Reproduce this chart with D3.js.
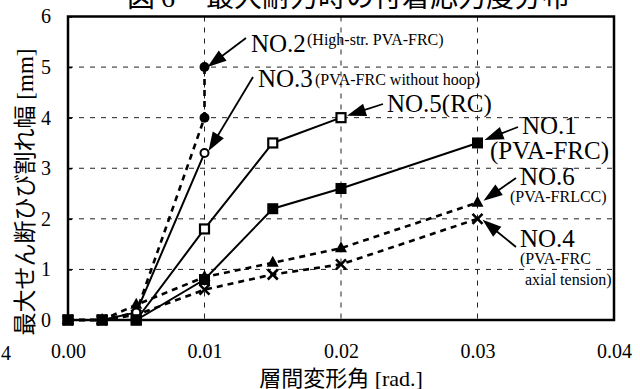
<!DOCTYPE html>
<html><head><meta charset="utf-8">
<script src="https://cdn.jsdelivr.net/npm/d3@7"></script>
<style>
html,body{margin:0;padding:0;background:#fff;}
svg{display:block;}
svg text{font-family:"Liberation Serif","DejaVu Serif","Noto Sans CJK JP";fill:#000;}
</style></head>
<body>
<svg id="chart" width="640" height="389"></svg>
<script>
// ---- data ----
const drift = [0, 0.0025, 0.005, 0.01, 0.015, 0.02, 0.03];
const no1 = [0, 0, 0, 0.8, 2.2, 2.6, 3.5];          // NO.1 PVA-FRC
const no5 = [0, 0, 0, 1.8, 3.5, 4.0];                // NO.5 RC
const no3 = [0, 0, 0.15, 3.3];                       // NO.3 without hoop
const no2x = [0, 0.0025, 0.005, 0.01, 0.01];
const no2 = [0, 0, 0.15, 4.0, 5.0];                  // NO.2 high-str.
const no6 = [0, 0, 0.3, 0.85, 1.13, 1.42, 2.32];     // NO.6 PVA-FRLCC
const no4 = [0, 0, 0.1, 0.6, 0.9, 1.1, 2.0];         // NO.4 axial tension
const xTicks = [0, 0.01, 0.02, 0.03, 0.04];
const yTicks = [0, 1, 2, 3, 4, 5, 6];
const xTitle = "層間変形角 [rad.]";
const yTitle = "最大せん断ひび割れ幅 [mm]";

// ---- layout ----
const FONT = '"Liberation Serif","DejaVu Serif","Noto Sans CJK JP"';
const svg = d3.select("#chart");
const L = 68, R = 614, T = 16.5, B = 320;
const x = d3.scaleLinear().domain([0, 0.04]).range([L, R]);
const y = d3.scaleLinear().domain([0, 6]).range([B, T]);

// title (cropped at top)
const title = svg.append("text").attr("y", 7).style("font-size", "28px").style("font-family", FONT);
title.append("tspan").attr("x", 127).style("font-family", "Noto Sans CJK JP").text("図");
title.append("tspan").attr("x", 161).text("6");
title.append("tspan").attr("x", 206).style("font-family", "Noto Sans CJK JP").text("最大耐力時の付着応力度分布");

// grid
const g = svg.append("g");
g.selectAll(".hg").data(yTicks.filter(d => d > 0 && d < 6)).enter().append("line")
  .attr("x1", L).attr("x2", R).attr("y1", d => y(d)).attr("y2", d => y(d))
  .attr("stroke", "#222").attr("stroke-width", 1).attr("stroke-dasharray", "5,6");
g.selectAll(".vg").data(xTicks.filter(d => d > 0 && d < 0.04)).enter().append("line")
  .attr("y1", T).attr("y2", B).attr("x1", d => x(d)).attr("x2", d => x(d))
  .attr("stroke", "#222").attr("stroke-width", 1).attr("stroke-dasharray", "5,6");

// axes labels via d3 axes
const yAxis = svg.append("g").attr("transform", `translate(${L},0)`)
  .call(d3.axisLeft(y).tickValues(yTicks).tickSize(-4).tickPadding(17).tickFormat(d3.format("d")));
yAxis.attr("font-family", null).attr("font-size", null);
yAxis.select(".domain").remove();
yAxis.selectAll("line").attr("stroke", "#000").attr("stroke-width", 1.5);
yAxis.selectAll("text").style("font-size", "20px").style("font-family", FONT);

const xAxis = svg.append("g").attr("transform", `translate(0,${B})`)
  .call(d3.axisBottom(x).tickValues(xTicks).tickSize(0).tickPadding(24).tickFormat(d3.format(".2f")));
xAxis.attr("font-family", null).attr("font-size", null);
xAxis.select(".domain").remove();
xAxis.selectAll("text").style("font-size", "20px").style("font-family", FONT);

// stray cropped label at far left
svg.append("text").attr("x", 1).attr("y", 360).style("font-size", "20px").style("font-family", FONT).text("4");

// axis titles
svg.append("text").attr("x", 341).attr("y", 386).attr("text-anchor", "middle")
  .style("font-size", "22px").style("font-family", FONT).text(xTitle);
svg.append("text").attr("transform", "translate(33,192) rotate(-90)").attr("text-anchor", "middle")
  .style("font-size", "23px").style("font-family", FONT).text(yTitle);

// frame
svg.append("rect").attr("x", L).attr("y", T).attr("width", R - L).attr("height", B - T)
  .attr("fill", "none").attr("stroke", "#000").attr("stroke-width", 2.5);

// series
const series = [
  {xs: drift, ys: no6, dash: "6,5", marker: "tri"},
  {xs: drift, ys: no4, dash: "6,5", marker: "x"},
  {xs: no2x, ys: no2, dash: "6,5", marker: "dot"},
  {xs: drift, ys: no3, dash: null, marker: "circle"},
  {xs: drift, ys: no5, dash: null, marker: "osq"},
  {xs: drift, ys: no1, dash: null, marker: "sq"},
];
const line = d3.line().x(d => x(d[0])).y(d => y(d[1]));
const sg = svg.append("g");
series.forEach(s => {
  const pts = s.ys.map((v, i) => [s.xs[i], v]);
  sg.append("path").datum(pts).attr("d", line).attr("fill", "none").attr("stroke", "#000")
    .attr("stroke-width", s.dash ? 2.6 : 2).attr("stroke-dasharray", s.dash);
});
series.forEach(s => {
  const pts = s.ys.map((v, i) => [s.xs[i], v]);
  const m = sg.append("g");
  pts.forEach(p => {
    const cx = x(p[0]), cy = y(p[1]);
    if (s.marker === "sq") m.append("rect").attr("x", cx - 5.5).attr("y", cy - 5.5).attr("width", 11).attr("height", 11).attr("fill", "#000");
    else if (s.marker === "osq") m.append("rect").attr("x", cx - 4.5).attr("y", cy - 4.5).attr("width", 9).attr("height", 9).attr("fill", "#fff").attr("stroke", "#000").attr("stroke-width", 2.2);
    else if (s.marker === "dot") m.append("circle").attr("cx", cx).attr("cy", cy).attr("r", 5).attr("fill", "#000");
    else if (s.marker === "circle") m.append("circle").attr("cx", cx).attr("cy", cy).attr("r", 4).attr("fill", "#fff").attr("stroke", "#000").attr("stroke-width", 2);
    else if (s.marker === "tri") m.append("path").attr("d", `M${cx},${cy - 7}L${cx + 6},${cy + 4}L${cx - 6},${cy + 4}Z`).attr("fill", "#000");
    else if (s.marker === "x") m.append("path").attr("d", `M${cx - 5},${cy - 5}L${cx + 5},${cy + 5}M${cx + 5},${cy - 5}L${cx - 5},${cy + 5}`).attr("stroke", "#000").attr("stroke-width", 2.6);
  });
});

// annotations: arrows
function arrow(x1, y1, x2, y2) {
  const dx = x2 - x1, dy = y2 - y1, len = Math.hypot(dx, dy);
  const ux = dx / len, uy = dy / len, hl = 19, hw = 6.5;
  const bx = x2 - ux * hl, by = y2 - uy * hl;
  svg.append("line").attr("x1", x1).attr("y1", y1).attr("x2", bx + ux * 2).attr("y2", by + uy * 2)
    .attr("stroke", "#000").attr("stroke-width", 1.8);
  svg.append("path").attr("d", `M${x2},${y2}L${bx - uy * hw},${by + ux * hw}L${bx + uy * hw},${by - ux * hw}Z`).attr("fill", "#000");
}
function label(xp, yp, txt, size) {
  svg.append("text").attr("x", xp).attr("y", yp).style("font-size", size + "px").style("font-family", FONT).text(txt);
}
arrow(246, 38, x(0.01) + 3, y(5.0));
label(251, 52, "NO.2", 25); label(307, 45, "(High-str. PVA-FRC)", 16);
arrow(253, 77, x(0.01) + 4, y(3.3) - 2);
label(258, 87, "NO.3", 25); label(315, 85, "(PVA-FRC without hoop)", 16);
arrow(383, 104, x(0.02) + 6, y(4.0) - 2);
label(387, 112, "NO.5(RC)", 25);
arrow(518, 127, x(0.03) + 7, y(3.5) - 3);
label(522, 134, "NO.1", 25); label(490, 159, "(PVA-FRC)", 25);
arrow(516, 178, x(0.03) + 6, y(2.32) - 2);
label(520, 185, "NO.6", 25); label(510, 202, "(PVA-FRLCC)", 16);
arrow(516, 247, x(0.03) + 5, y(2.0) + 1);
label(520, 247, "NO.4", 25); label(520, 264, "(PVA-FRC", 16); label(525, 285, "axial tension)", 16);
</script>
</body></html>
